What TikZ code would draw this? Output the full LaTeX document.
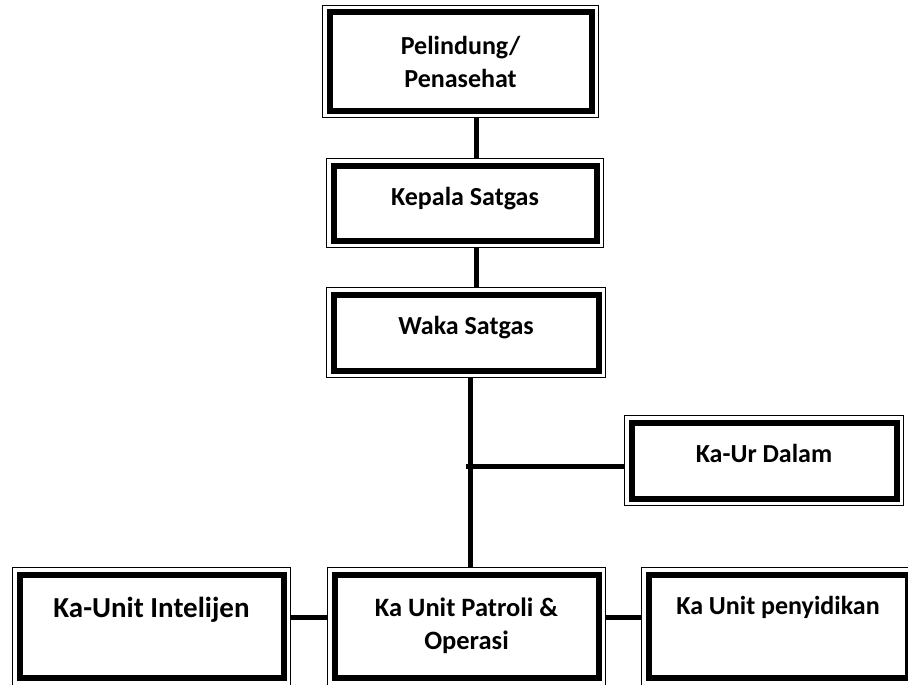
\documentclass[tikz,border=0pt]{standalone}
\usepackage{fontspec}
\setmainfont{Carlito}
\usepackage{tikz}

\begin{document}
\begin{tikzpicture}[x=1pt,y=1pt,
    unitbox/.style={draw, line width=6pt, inner sep=0pt, outer sep=7pt,
      minimum width=264pt, align=center,
      font=\bfseries\fontsize{26}{33}\selectfont},
    link/.style={line width=5pt}]
\useasboundingbox (0,0) rectangle (908,-685);

\node[unitbox, minimum width=262pt, minimum height=98pt] (pelindung) at (460.5,-61.5) {Pelindung/\\Penasehat};
\node[unitbox, minimum width=263pt, text height=40pt, text depth=35pt] (kepala) at (465,-203) {Kepala Satgas};
\node[unitbox, minimum width=265pt, text height=40pt, text depth=36pt] (waka) at (466,-332.5) {Waka Satgas};
\node[unitbox, minimum width=265pt, text height=40pt, text depth=36pt] (kaur) at (764,-460.5) {Ka-Ur Dalam};
\node[unitbox, text height=42.5pt, text depth=61pt,
  font=\bfseries\fontsize{29}{35}\selectfont] (intel) at (151.5,-626.25) {Ka-Unit Intelijen};
\node[unitbox, minimum height=103.5pt,
  font=\bfseries\fontsize{26.5}{33}\selectfont] (patroli) at (466.5,-626.25) {Ka Unit Patroli \&\\Operasi};
\node[unitbox, minimum width=259pt, text height=40pt, text depth=63.5pt] (sidik) at (778,-626.25) {Ka Unit penyidikan};

% thin outer frame
\foreach \n in {pelindung,kepala,waka,kaur,intel,patroli,sidik}
  \draw[line width=0.8pt] (\n.north west) rectangle (\n.south east);

\coordinate (spine) at (476,0);
\coordinate (trunk) at (470,0);
\coordinate (branch) at (466,-466);
\coordinate (row) at (0,-617.5);

\draw[link] (pelindung.south -| spine) -- (kepala.north -| spine);
\draw[link] (kepala.south -| spine) -- (waka.north -| spine);
\draw[link] (waka.south -| trunk) -- (patroli.north -| trunk);
\draw[link] (branch) -- (branch -| kaur.west);
\draw[link] (intel.east |- row) -- (patroli.west |- row);
\draw[link] (patroli.east |- row) -- (sidik.west |- row);
\end{tikzpicture}
\end{document}
